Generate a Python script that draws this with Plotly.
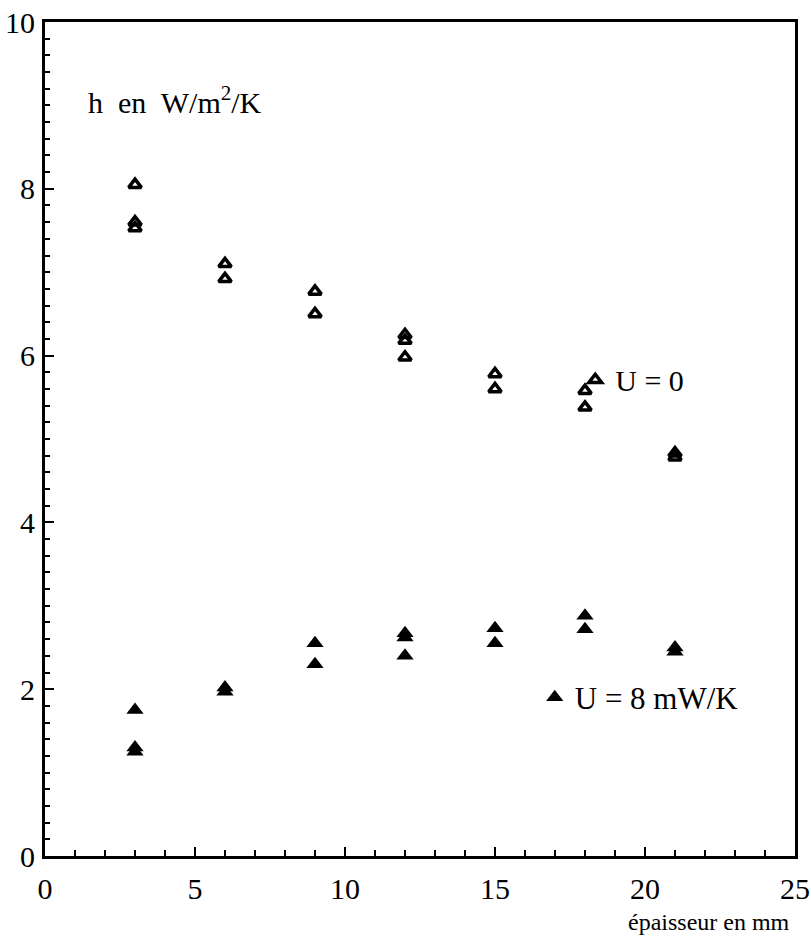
import plotly.graph_objects as go

# Data
x_u0 = [3, 3, 3, 6, 6, 9, 9, 12, 12, 12, 15, 15, 18, 18, 21, 21]
h_u0 = [8.05, 7.6, 7.53, 7.1, 6.92, 6.77, 6.5, 6.25, 6.18, 5.98, 5.78, 5.6, 5.58, 5.38, 4.83, 4.78]

x_u8 = [3, 3, 3, 6, 6, 9, 9, 12, 12, 12, 15, 15, 18, 18, 21, 21]
h_u8 = [1.75, 1.3, 1.25, 2.02, 1.97, 2.55, 2.3, 2.67, 2.62, 2.4, 2.73, 2.55, 2.88, 2.72, 2.5, 2.45]

x_ticks = [0, 5, 10, 15, 20, 25]
y_ticks = [0, 2, 4, 6, 8, 10]

serif = "Liberation Serif"

fig = go.Figure()
fig.add_trace(go.Scatter(
    x=x_u0, y=h_u0, mode="markers", name="U = 0", legend="legend",
    marker=dict(symbol="triangle-up-open", size=11, color="black",
                line=dict(color="black", width=3.5)),
))
fig.add_trace(go.Scatter(
    x=x_u8, y=h_u8, mode="markers", name="U = 8 mW/K", legend="legend2",
    marker=dict(symbol="triangle-up", size=15, color="black",
                line=dict(color="black", width=0)),
))

fig.update_layout(
    width=811, height=947,
    paper_bgcolor="white", plot_bgcolor="white",
    margin=dict(l=45, r=16, t=22, b=91),
    font=dict(family=serif, size=30, color="black"),
    showlegend=True,
    legend=dict(x=0.707, y=0.571, xanchor="left", yanchor="middle",
                bgcolor="rgba(0,0,0,0)", font=dict(family=serif, size=30),
                itemwidth=30),
    legend2=dict(x=0.653, y=0.19, xanchor="left", yanchor="middle",
                 bgcolor="rgba(0,0,0,0)", font=dict(family=serif, size=31),
                 itemwidth=30),
    xaxis=dict(range=[0, 25], tickvals=x_ticks, ticktext=[str(v) for v in x_ticks],
               ticks="inside", ticklen=9, tickwidth=2, tickcolor="black",
               minor=dict(dtick=1, ticks="inside", ticklen=6, tickwidth=2, tickcolor="black"),
               showline=True, linewidth=3, linecolor="black", mirror=True,
               showgrid=False, zeroline=False, ticklabelstandoff=4, automargin=False,
               tickfont=dict(family=serif, size=30)),
    yaxis=dict(range=[0, 10], tickvals=y_ticks, ticktext=[str(v) for v in y_ticks],
               ticks="inside", ticklen=9, tickwidth=2, tickcolor="black",
               minor=dict(dtick=0.2, ticks="inside", ticklen=5, tickwidth=2, tickcolor="black"),
               showline=True, linewidth=3, linecolor="black", mirror=True,
               showgrid=False, zeroline=False, ticklabelstandoff=1, automargin=False,
               tickfont=dict(family=serif, size=30)),
    annotations=[
        dict(text="h  en  W/m<sup>2</sup>/K", xref="paper", yref="paper",
             x=(86 - 45) / 750, y=(856 - 100) / 834, xanchor="left", yanchor="middle",
             showarrow=False, font=dict(family=serif, size=30)),
        dict(text="épaisseur en mm", xref="paper", yref="paper",
             x=(792 - 45) / 750, y=(856 - 922) / 834, xanchor="right", yanchor="middle",
             showarrow=False, font=dict(family=serif, size=24)),
    ],
)

fig.write_html("out.html", config={"displayModeBar": False},
               post_script="document.body.style.margin='0';")
